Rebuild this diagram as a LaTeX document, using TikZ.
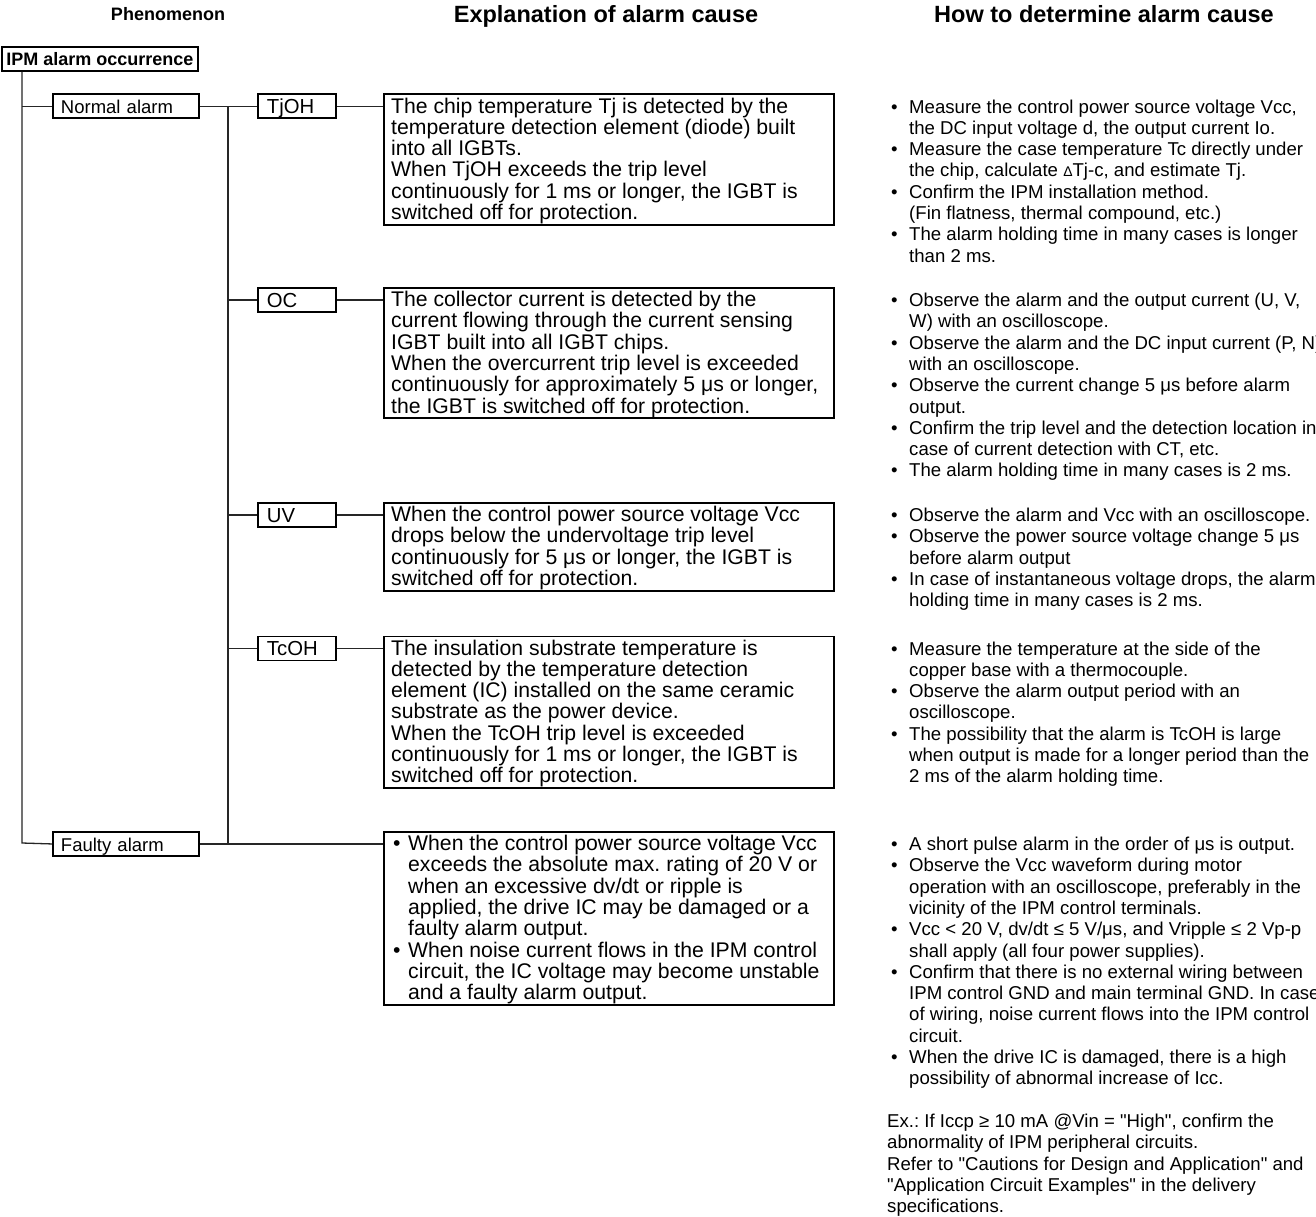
\documentclass[tikz,border=0pt]{standalone}
\usepackage{fontspec}
\setmainfont{Liberation Sans}[Ligatures=TeXOff]
\newcommand\fdesc{\fontsize{21.2pt}{21.3pt}\selectfont}
\newcommand\frcol{\fontsize{18.6pt}{21.3pt}\selectfont}
\newcommand\flab{\fontsize{18.5pt}{21pt}\selectfont}
\newcommand\fcode{\fontsize{20.3pt}{21pt}\selectfont}
\newcommand\fhead{\bfseries\fontsize{23.5pt}{26pt}\selectfont}
\newcommand\fphen{\bfseries\fontsize{18pt}{20pt}\selectfont}
\newcommand\sd{\rule{0pt}{17pt}}
\newcommand\sr{\rule{0pt}{15pt}}
\newcommand\rb{\makebox[18pt][l]{•}}
\newcommand\ri{\hspace*{18pt}}
\newcommand\db{\makebox[15pt][l]{•}}
\newcommand\di{\hspace*{15pt}}
\newcommand\smD{{\fontsize{14pt}{14pt}\selectfont Δ}}
\begin{document}
\frenchspacing
\begin{tikzpicture}[x=1pt,y=-1pt,
  conn/.style={line width=1.3pt, black!85},
  frmbox/.style={draw, line width=1.9pt, inner sep=0pt},
  labbox/.style={frmbox, anchor=north west, minimum height=24pt, inner xsep=9pt, inner ysep=0pt, text height=15pt, text depth=0pt, align=left},
  tagbox/.style={labbox, text width=60pt, font=\fcode},
  catbox/.style={labbox, text width=130pt, inner xsep=8pt, font=\flab},
  dbox/.style={frmbox, anchor=north west, minimum width=450pt},
  dtext/.style={anchor=north west, inner sep=0pt, align=left, font=\fdesc},
  rtext/.style={anchor=north west, inner sep=0pt, align=left, font=\frcol},
  hd/.style={anchor=base, inner sep=0pt, font=\fhead}]
\useasboundingbox (0,0) rectangle (1316,1217);
\fill[white] (0,0) rectangle (1316,1217);

% headings
\node[hd, font=\fphen] (hPhen) at (168,21) {Phenomenon};
\node[hd] (hExp) at (606,23) {Explanation of alarm cause};
\node[hd] (hHow) at (1104,23) {How to determine alarm cause};

% tree boxes
\node[frmbox, anchor=north west, minimum width=196pt, minimum height=24pt, text height=13pt, text depth=0pt, font=\fphen] (ipm) at (1,46) {IPM alarm occurrence};
\node[catbox] (na) at (52,93.5) {Normal alarm};
\node[catbox] (fa) at (52,831) {Faulty alarm};
\node[tagbox] (tj) at (257,93.5) {TjOH};
\node[tagbox] (oc) at (257,287) {OC};
\node[tagbox] (uv) at (257,502) {UV};
\node[tagbox] (tc) at (257,635.5) {TcOH};

% description boxes
\node[dbox, minimum height=130.3pt] (dTj) at (383,93.5) {};
\node[dbox, minimum height=130.3pt] (dOc) at (383,287) {};
\node[dbox, minimum height=87.7pt] (dUv) at (383,502) {};
\node[dbox, minimum height=151.6pt] (dTc) at (383,635.5) {};
\node[dbox, minimum height=172.9pt] (dFa) at (383,831) {};

\node[dtext] (tTj) at (391,95.8) {\sd The chip temperature Tj is detected by the\\
temperature detection element (diode) built\\
into all IGBTs.\\
When TjOH exceeds the trip level\\
continuously for 1 ms or longer, the IGBT is\\
switched off for protection.};
\node[dtext] (tOc) at (391,289.3) {\sd The collector current is detected by the\\
current flowing through the current sensing\\
IGBT built into all IGBT chips.\\
When the overcurrent trip level is exceeded\\
continuously for approximately 5 μs or longer,\\
the IGBT is switched off for protection.};
\node[dtext] (tUv) at (391,504.3) {\sd When the control power source voltage Vcc\\
drops below the undervoltage trip level\\
continuously for 5 μs or longer, the IGBT is\\
switched off for protection.};
\node[dtext] (tTc) at (391,637.8) {\sd The insulation substrate temperature is\\
detected by the temperature detection\\
element (IC) installed on the same ceramic\\
substrate as the power device.\\
When the TcOH trip level is exceeded\\
continuously for 1 ms or longer, the IGBT is\\
switched off for protection.};
\node[dtext] (tFa) at (393,833.3) {\sd\db When the control power source voltage Vcc\\
\di exceeds the absolute max. rating of 20 V or\\
\di when an excessive dv/dt or ripple is\\
\di applied, the drive IC may be damaged or a\\
\di faulty alarm output.\\
\db When noise current flows in the IPM control\\
\di circuit, the IC voltage may become unstable\\
\di and a faulty alarm output.};

% right column
\node[rtext] (rTj) at (891,97.8) {\sr\rb Measure the control power source voltage Vcc,\\
\ri the DC input voltage d, the output current Io.\\
\rb Measure the case temperature Tc directly under\\
\ri the chip, calculate \smD Tj-c, and estimate Tj.\\
\rb Confirm the IPM installation method.\\
\ri (Fin flatness, thermal compound, etc.)\\
\rb The alarm holding time in many cases is longer\\
\ri than 2 ms.};
\node[rtext] (rOc) at (891,291.3) {\sr\rb Observe the alarm and the output current (U, V,\\
\ri W) with an oscilloscope.\\
\rb Observe the alarm and the DC input current (P, N)\\
\ri with an oscilloscope.\\
\rb Observe the current change 5 μs before alarm\\
\ri output.\\
\rb Confirm the trip level and the detection location in\\
\ri case of current detection with CT, etc.\\
\rb The alarm holding time in many cases is 2 ms.};
\node[rtext] (rUv) at (891,506.3) {\sr\rb Observe the alarm and Vcc with an oscilloscope.\\
\rb Observe the power source voltage change 5 μs\\
\ri before alarm output\\
\rb In case of instantaneous voltage drops, the alarm\\
\ri holding time in many cases is 2 ms.};
\node[rtext] (rTc) at (891,639.8) {\sr\rb Measure the temperature at the side of the\\
\ri copper base with a thermocouple.\\
\rb Observe the alarm output period with an\\
\ri oscilloscope.\\
\rb The possibility that the alarm is TcOH is large\\
\ri when output is made for a longer period than the\\
\ri 2 ms of the alarm holding time.};
\node[rtext] (rFa) at (891,835.3) {\sr\rb A short pulse alarm in the order of μs is output.\\
\rb Observe the Vcc waveform during motor\\
\ri operation with an oscilloscope, preferably in the\\
\ri vicinity of the IPM control terminals.\\
\rb Vcc < 20 V, dv/dt ≤ 5 V/μs, and Vripple ≤ 2 Vp-p\\
\ri shall apply (all four power supplies).\\
\rb Confirm that there is no external wiring between\\
\ri IPM control GND and main terminal GND. In case\\
\ri of wiring, noise current flows into the IPM control\\
\ri circuit.\\
\rb When the drive IC is damaged, there is a high\\
\ri possibility of abnormal increase of Icc.};
\node[rtext] (rEx) at (887,1112.2) {\sr Ex.: If Iccp ≥ 10 mA @Vin = "High", confirm the\\
abnormality of IPM peripheral circuits.\\
Refer to "Cautions for Design and Application" and\\
"Application Circuit Examples" in the delivery\\
specifications.};

% connectors
\coordinate (trunk) at (22,843);
\coordinate (bus) at (228,843);
\draw[conn] (ipm.south -| trunk) -- (trunk) -- (fa.west);
\draw[conn] (trunk |- na.west) -- (na.west);
\draw[conn] (na.east) -- (bus |- na.east) -- (bus);
\draw[conn] (fa.east) -- (dFa.west |- fa.east);
\draw[conn] (bus |- tj.west) -- (tj.west);
\draw[conn] (bus |- oc.west) -- (oc.west);
\draw[conn] (bus |- uv.west) -- (uv.west);
\draw[conn] (bus |- tc.west) -- (tc.west);
\draw[conn] (tj.east) -- (dTj.west |- tj.east);
\draw[conn] (oc.east) -- (dOc.west |- oc.east);
\draw[conn] (uv.east) -- (dUv.west |- uv.east);
\draw[conn] (tc.east) -- (dTc.west |- tc.east);
\end{tikzpicture}
\end{document}
